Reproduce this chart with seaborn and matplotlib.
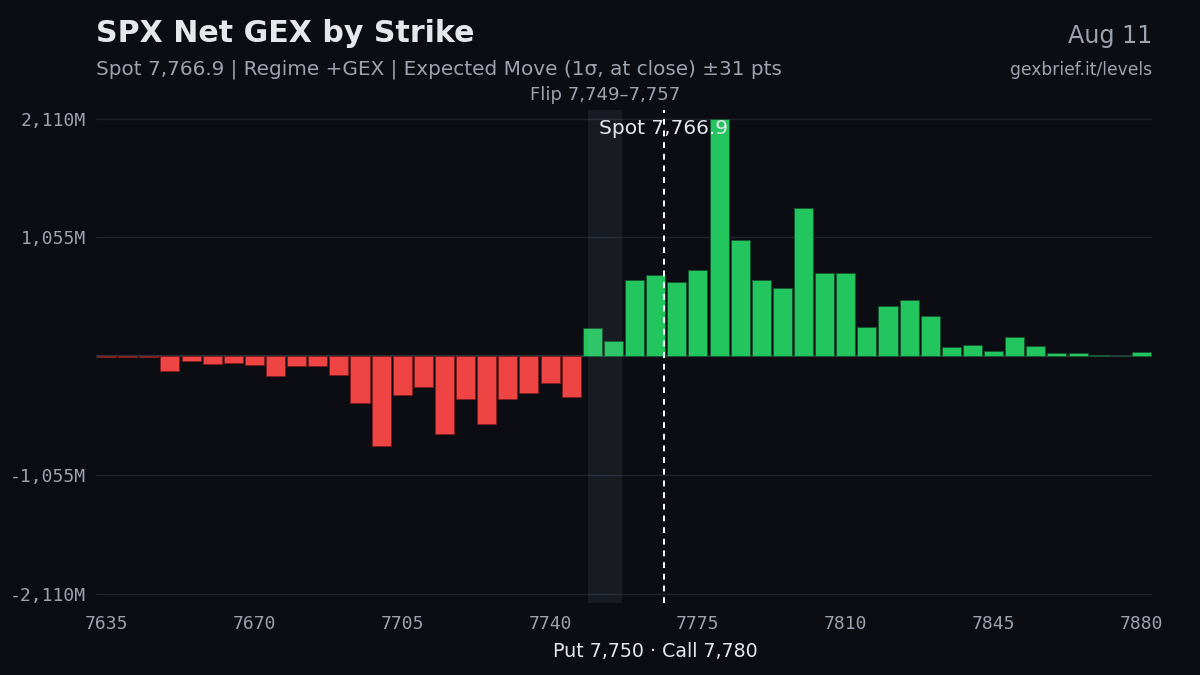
import numpy as np
import pandas as pd
import matplotlib
matplotlib.use("Agg")
import matplotlib.pyplot as plt
import seaborn as sns

# --- data ---
strikes = list(range(7635, 7885, 5))
net_gex = [-8, -8, -6, -133, -38, -65, -56, -80, -171, -83,
           -86, -166, -411, -795, -343, -275, -686, -381, -603, -375,
           -325, -239, -361, 254, 139, 680, 724, 660, 768, 2110,
           1037, 680, 606, 1316, 739, 742, 257, 443, 503, 355,
           83, 101, 50, 172, 92, 33, 27, 15, 6, 39]
x_ticks = [7635, 7670, 7705, 7740, 7775, 7810, 7845, 7880]
y_ticks = [-2110, -1055, 1055, 2110]
y_tick_labels = ["-2,110M", "-1,055M", "1,055M", "2,110M"]

spot = 7766.9
flip_lo, flip_hi = 7749, 7757
put_wall, call_wall = 7750, 7780

BG = "#0b0d12"
GRID = "#1e232c"
RED = "#ef4444"
GREEN = "#22c55e"
GRAY = "#9ca3af"
WHITE = "#e5e7eb"

df = pd.DataFrame({"strike": strikes, "gex": net_gex})
df["side"] = np.where(df["gex"] >= 0, "pos", "neg")

sns.set_theme(style="dark")
plt.rcParams["font.family"] = ["DejaVu Sans"]

fig = plt.figure(figsize=(12, 6.75), dpi=100, facecolor=BG)
ax = fig.add_axes([0.08, 0.107, 0.88, 0.73])
ax.set_facecolor(BG)

sns.barplot(data=df, x="strike", y="gex", hue="side",
            palette={"pos": GREEN, "neg": RED}, native_scale=True,
            width=0.9, saturation=1, edgecolor="#14532d", linewidth=0.6,
            legend=False, ax=ax, zorder=2)
# darker outline for the red bars
for p in ax.patches:
    if p.get_height() < 0:
        p.set_edgecolor("#7f1d1d")

ymax = max(abs(v) for v in net_gex) * 1.036
ax.set_ylim(-ymax, ymax)
ax.set_xlim(strikes[0] - 2.5, strikes[-1] + 2.5)

# flip zone and spot line
ax.axvspan(flip_lo, flip_hi, color="#c8d4ff", alpha=0.075, zorder=3, lw=0)
ax.axvline(spot, color="white", ls=(0, (3, 3)), lw=1.4, zorder=4)
ax.axhline(0, color="#2b313b", lw=1.5, zorder=1)
for yv in y_ticks:
    ax.axhline(yv, color=GRID, lw=1.0, zorder=0)

ax.set_xticks(x_ticks)
ax.set_xticklabels([str(t) for t in x_ticks], family="DejaVu Sans Mono")
ax.set_yticks(y_ticks)
ax.set_yticklabels(y_tick_labels, family="DejaVu Sans Mono")
ax.tick_params(colors=GRAY, labelsize=13, length=0, pad=7)
ax.tick_params(axis="x", pad=9)
ax.grid(False)
for s in ax.spines.values():
    s.set_visible(False)
ax.set_xlabel("")
ax.set_ylabel("")

ax.text(spot, 2110 - 5, f"Spot {spot:,.1f}", color=WHITE, fontsize=14.5,
        ha="center", va="top", zorder=5)
ax.text((flip_lo + flip_hi) / 2, ymax + 55, f"Flip {flip_lo:,}\u2013{flip_hi:,}",
        color=GRAY, fontsize=13, ha="center", va="bottom")
ax.text((put_wall + call_wall) / 2, -0.08, f"Put {put_wall:,} \u00b7 Call {call_wall:,}",
        transform=ax.get_xaxis_transform(), color=WHITE, fontsize=13.7,
        ha="center", va="top")

fig.text(0.08, 0.95, "SPX Net GEX by Strike", color=WHITE, fontsize=21.6,
         fontweight="bold", ha="left", va="center")
fig.text(0.08, 0.897, "Spot 7,766.9 | Regime +GEX | Expected Move (1\u03c3, at close) \u00b131 pts",
         color=GRAY, fontsize=14.4, ha="left", va="center")
fig.text(0.96, 0.947, "Aug 11", color=GRAY, fontsize=17.2, ha="right", va="center")
fig.text(0.96, 0.896, "gexbrief.it/levels", color=GRAY, fontsize=12.3, ha="right", va="center")

fig.savefig("out.png", dpi=100, facecolor=BG)
